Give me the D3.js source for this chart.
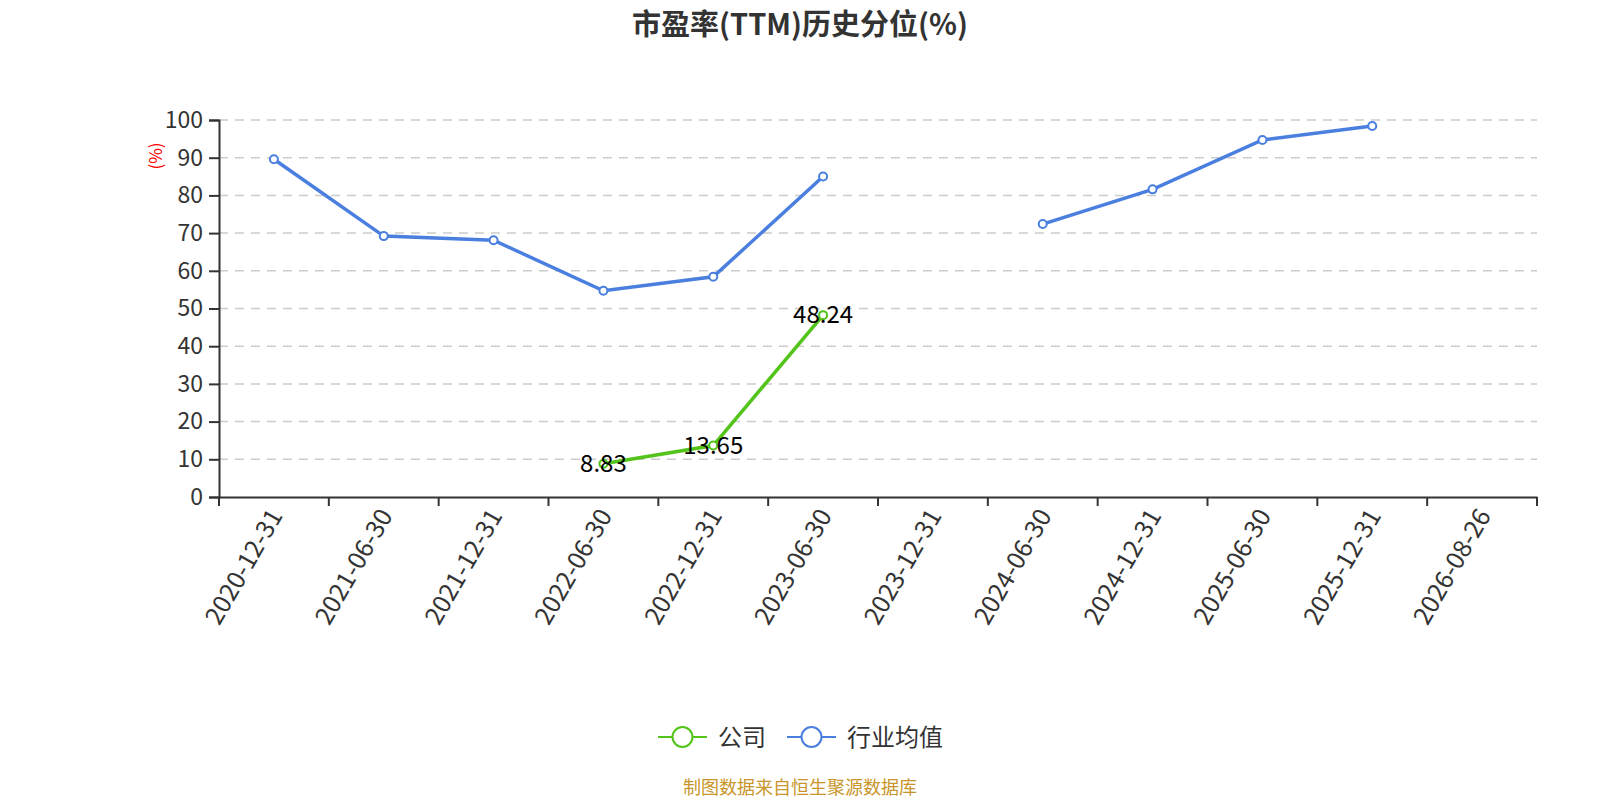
<!DOCTYPE html>
<html>
<head>
<meta charset="utf-8">
<script src="https://cdn.jsdelivr.net/npm/d3@7"></script>
<style>
  body { margin: 0; background: #fff; }
  text { font-family: "Microsoft YaHei", "Noto Sans CJK SC", "Noto Sans", sans-serif; }
</style>
</head>
<body>
<div id="chart"></div>
<script>
// report dates on the x axis
const dates = ["2020-12-31", "2021-06-30", "2021-12-31", "2022-06-30", "2022-12-31", "2023-06-30",
    "2023-12-31", "2024-06-30", "2024-12-31", "2025-06-30", "2025-12-31", "2026-08-26"];
// company PE percentile, null where missing
const company = [null, null, null, 8.83, 13.65, 48.24, null, null, null, null, null, null];
// industry average PE percentile
const industry = [89.6, 69.2, 68.1, 54.7, 58.4, 85.0, null, 72.4, 81.6, 94.7, 98.4, null];
const yTicks = [0, 10, 20, 30, 40, 50, 60, 70, 80, 90, 100];

const width = 1600;
const height = 800;
const margin = {top: 120, left: 219, bottom: 303, right: 63};
const cx = width / 2; // horizontal centre used for title/legend/footer

const green = "#52c41a";
const blue = "#4a7fe0";
const font = "'Microsoft YaHei', 'Noto Sans CJK SC', sans-serif";

const svg = d3.select("#chart")
    .append("svg")
    .attr("width", width)
    .attr("height", height);

const x = d3.scaleBand()
    .domain(dates)
    .range([margin.left, width - margin.right]);

const y = d3.scaleLinear()
    .domain([0, 100])
    .range([height - margin.bottom, margin.top]);

// title
svg.append("text")
    .attr("x", cx)
    .attr("y", 35)
    .attr("text-anchor", "middle")
    .attr("font-size", 29)
    .attr("font-weight", "bold")
    .attr("fill", "#333")
    .text("市盈率(TTM)历史分位(%)");

// dashed grid lines
svg.append("g")
    .selectAll("line")
    .data(yTicks.filter(d => d > 0))
    .enter()
    .append("line")
    .attr("x1", margin.left)
    .attr("x2", width - margin.right)
    .attr("y1", d => y(d))
    .attr("y2", d => y(d))
    .attr("stroke", "#ccc")
    .attr("stroke-width", 1.5)
    .attr("stroke-dasharray", "9,7");

// y axis
const yAxis = svg.append("g")
    .attr("transform", `translate(${margin.left},0)`)
    .call(d3.axisLeft(y).tickValues(yTicks).tickSize(10).tickPadding(6));
yAxis.select(".domain").attr("stroke", "#333").attr("stroke-width", 2);
yAxis.selectAll(".tick line").attr("stroke", "#333").attr("stroke-width", 2);
yAxis.selectAll(".tick text")
    .attr("font-size", 23)
    .attr("fill", "#333")
    .attr("font-family", font);

// unit label
svg.append("text")
    .attr("transform", `translate(162,156) rotate(-90)`)
    .attr("text-anchor", "middle")
    .attr("font-size", 17)
    .attr("fill", "red")
    .text("(%)");

// x axis
const xAxis = svg.append("g")
    .attr("transform", `translate(0,${y(0)})`)
    .call(d3.axisBottom(x).tickSize(0).tickPadding(0));
xAxis.select(".domain").attr("stroke", "#333").attr("stroke-width", 2);
xAxis.selectAll(".tick text")
    .attr("font-size", 25)
    .attr("fill", "#333")
    .attr("font-family", font)
    .attr("text-anchor", "end")
    .attr("dy", "0.35em")
    .attr("transform", "translate(2,14) rotate(-60)");

// x ticks on band boundaries
const bounds = dates.map(d => x(d)).concat([x(dates[dates.length - 1]) + x.bandwidth()]);
xAxis.append("g")
    .selectAll("line")
    .data(bounds)
    .enter()
    .append("line")
    .attr("x1", d => d)
    .attr("x2", d => d)
    .attr("y1", 0)
    .attr("y2", 9)
    .attr("stroke", "#333")
    .attr("stroke-width", 2);

const px = d => x(d) + x.bandwidth() / 2;

function drawSeries(values, color, labels) {
    const pts = dates.map((d, i) => ({d, v: values[i]}));
    const line = d3.line()
        .defined(p => p.v !== null)
        .x(p => px(p.d))
        .y(p => y(p.v));

    svg.append("path")
        .datum(pts)
        .attr("fill", "none")
        .attr("stroke", color)
        .attr("stroke-width", 3.5)
        .attr("d", line);

    const valid = pts.filter(p => p.v !== null);
    svg.append("g")
        .selectAll("circle")
        .data(valid)
        .enter()
        .append("circle")
        .attr("cx", p => px(p.d))
        .attr("cy", p => y(p.v))
        .attr("r", 4)
        .attr("fill", "#fff")
        .attr("stroke", color)
        .attr("stroke-width", 2);

    if (labels) {
        svg.append("g")
            .selectAll("text")
            .data(valid)
            .enter()
            .append("text")
            .attr("x", p => px(p.d))
            .attr("y", p => y(p.v) + 8)
            .attr("text-anchor", "middle")
            .attr("font-size", 24)
            .attr("fill", "#000")
            .text(p => p.v.toFixed(2));
    }
}

drawSeries(industry, blue, false);
drawSeries(company, green, true);

// legend
const legendItems = [
    {name: "公司", color: green, x: 658},
    {name: "行业均值", color: blue, x: 787}
];
const lg = svg.append("g");
legendItems.forEach(item => {
    lg.append("line")
        .attr("x1", item.x)
        .attr("x2", item.x + 49)
        .attr("y1", 737)
        .attr("y2", 737)
        .attr("stroke", item.color)
        .attr("stroke-width", 2);
    lg.append("circle")
        .attr("cx", item.x + 24.5)
        .attr("cy", 737)
        .attr("r", 10)
        .attr("fill", "#fff")
        .attr("stroke", item.color)
        .attr("stroke-width", 2);
    lg.append("text")
        .attr("x", item.x + 60)
        .attr("y", 746)
        .attr("font-size", 24)
        .attr("fill", "#333")
        .text(item.name);
});

// source footer
svg.append("text")
    .attr("x", cx)
    .attr("y", 794)
    .attr("text-anchor", "middle")
    .attr("font-size", 18)
    .attr("fill", "#c8962a")
    .text("制图数据来自恒生聚源数据库");
</script>
</body>
</html>
